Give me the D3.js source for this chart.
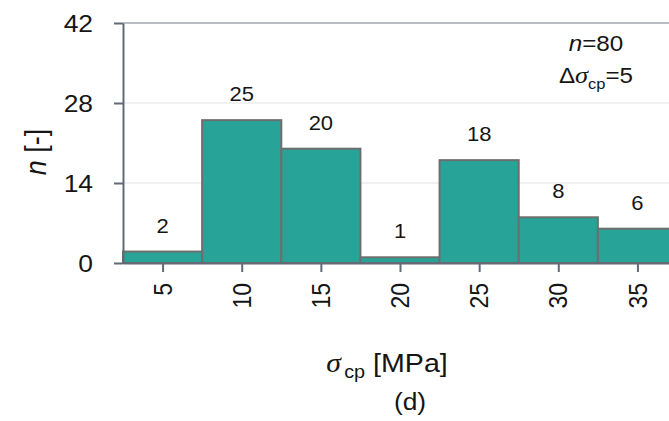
<!DOCTYPE html>
<html>
<head>
<meta charset="utf-8">
<script src="https://cdn.jsdelivr.net/npm/d3@7"></script>
<style>
  html, body { margin: 0; padding: 0; background: #fff; }
  svg { display: block; font-family: "Liberation Sans", Arial, sans-serif; }
</style>
</head>
<body>
<svg id="chart" width="669" height="421"></svg>
<script>
// Histogram of cracking stress sigma_cp (bin width 5 MPa)
const binCenters = [5, 10, 15, 20, 25, 30, 35];
const counts = [2, 25, 20, 1, 18, 8, 6];
const yTickValues = [0, 14, 28, 42];
const binWidth = 5;
const sampleSize = 80;

const W = 669, H = 421;
const plot = { left: 123, top: 23, bottom: 263, right: 677 };
const sx = 1.1; // horizontal stretch applied to text

const svg = d3.select("#chart");

const x = d3.scaleLinear()
  .domain([binCenters[0] - binWidth / 2, binCenters[binCenters.length - 1] + binWidth / 2])
  .range([plot.left, plot.right]);
const y = d3.scaleLinear().domain([0, 42]).range([plot.bottom, plot.top]);

// text helper: places a text with a slight horizontal stretch
function label(parent, tx, ty, rot) {
  const g = parent.append("g")
    .attr("transform", `translate(${tx},${ty}) scale(${sx},1)` + (rot ? ` rotate(${rot})` : ""));
  return g.append("text").attr("fill", "#151515");
}

// horizontal grid
svg.append("g").selectAll("line")
  .data(yTickValues.filter(d => d > 0))
  .join("line")
  .attr("x1", plot.left).attr("x2", W)
  .attr("y1", d => y(d)).attr("y2", d => y(d))
  .attr("stroke", d => d === 42 ? "#b9bcc0" : "#ececec")
  .attr("stroke-width", d => d === 42 ? 2 : 1.5);

// bars
svg.append("g").selectAll("rect")
  .data(binCenters.map((c, i) => ({ c, n: counts[i] })))
  .join("rect")
  .attr("x", d => x(d.c - binWidth / 2))
  .attr("width", d => x(d.c + binWidth / 2) - x(d.c - binWidth / 2))
  .attr("y", d => y(d.n))
  .attr("height", d => y(0) - y(d.n))
  .attr("fill", "#27a497")
  .attr("stroke", "#6e6e6e")
  .attr("stroke-width", 2);

// value labels
binCenters.forEach((c, i) => {
  label(svg, x(c), y(counts[i]) - 19)
    .attr("text-anchor", "middle")
    .attr("font-size", 20)
    .text(counts[i]);
});

// y axis
const yAxis = svg.append("g")
  .attr("transform", `translate(${plot.left},0)`)
  .call(d3.axisLeft(y).tickValues(yTickValues).tickSize(9).tickSizeOuter(0).tickFormat(() => ""));
yAxis.select(".domain").attr("stroke", "#626a76").attr("stroke-width", 2);
yAxis.selectAll(".tick line").attr("stroke", "#626a76").attr("stroke-width", 2);
yTickValues.forEach(v => {
  label(svg, 93, y(v))
    .attr("text-anchor", "end")
    .attr("dy", "0.36em")
    .attr("font-size", 24)
    .text(v);
});

// x axis
const xAxis = svg.append("g")
  .attr("transform", `translate(0,${plot.bottom})`)
  .call(d3.axisBottom(x).tickValues(binCenters).tickSize(9).tickSizeOuter(0).tickFormat(() => ""));
xAxis.select(".domain").attr("stroke", "#626a76").attr("stroke-width", 2);
xAxis.selectAll(".tick line").attr("stroke", "#626a76").attr("stroke-width", 2);
binCenters.forEach(v => {
  label(svg, x(v), 283, -90)
    .attr("text-anchor", "end")
    .attr("dy", "0.36em")
    .attr("font-size", 23)
    .text(v);
});

// y axis title
const yt = label(svg, 46, 152, -90)
  .attr("text-anchor", "middle")
  .attr("font-size", 27);
yt.append("tspan").attr("font-style", "italic").text("n");
yt.append("tspan").text(" [-]");

// x axis title
const xt = label(svg, 387, 372)
  .attr("text-anchor", "middle")
  .attr("font-size", 26);
xt.append("tspan").attr("font-family", "Liberation Serif, serif").attr("font-style", "italic").attr("font-size", 27).text("σ");
xt.append("tspan").attr("font-size", 18).attr("dy", 6).attr("dx", 3).text("cp");
xt.append("tspan").attr("dy", -6).text(" [MPa]");

// panel tag
label(svg, 410, 410)
  .attr("text-anchor", "middle")
  .attr("font-size", 24)
  .text("(d)");

// annotation
const a1 = label(svg, 596, 51)
  .attr("text-anchor", "middle")
  .attr("font-size", 22);
a1.append("tspan").attr("font-style", "italic").text("n");
a1.append("tspan").text("=" + sampleSize);

const a2 = label(svg, 596, 83)
  .attr("text-anchor", "middle")
  .attr("font-size", 22);
a2.append("tspan").text("Δ");
a2.append("tspan").attr("font-family", "Liberation Serif, serif").attr("font-style", "italic").attr("font-size", 24).text("σ");
a2.append("tspan").attr("font-size", 15).attr("dy", 6).text("cp");
a2.append("tspan").attr("dy", -6).text("=" + binWidth);
</script>
</body>
</html>
